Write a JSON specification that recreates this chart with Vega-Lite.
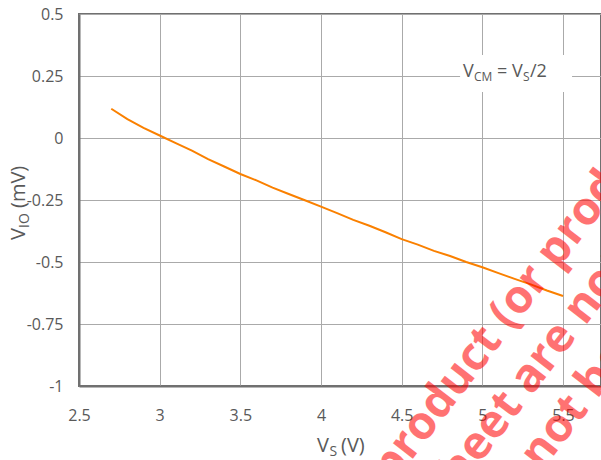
{
  "$schema": "https://vega.github.io/schema/vega-lite/v6.json",
  "width": 522,
  "height": 372,
  "autosize": {"type": "none"},
  "padding": {"left": 79, "top": 14, "right": 0, "bottom": 74},
  "background": "white",
  "config": {
    "font": "Open Sans",
    "view": {"stroke": "#707070", "strokeWidth": 2}
  },
  "encoding": {
    "x": {
      "field": "vs",
      "type": "quantitative",
      "scale": {"domain": [2.5, 5.7355], "nice": false, "zero": false},
      "axis": {
        "values": [2.5, 3, 3.5, 4, 4.5, 5, 5.5],
        "labelExpr": "'' + datum.value",
        "title": null,
        "grid": true,
        "gridColor": "#aaaaaa",
        "gridWidth": 1,
        "domainColor": "#707070",
        "domainWidth": 2,
        "ticks": false,
        "labelPadding": 21,
        "labelFlush": false,
        "labelOverlap": false,
        "labelFont": "Open Sans",
        "labelFontSize": 16,
        "labelColor": "#595959"
      }
    },
    "y": {
      "field": "vio",
      "type": "quantitative",
      "scale": {"domain": [-1, 0.5], "nice": false, "zero": false},
      "axis": {
        "values": [-1, -0.75, -0.5, -0.25, 0, 0.25, 0.5],
        "labelExpr": "'' + datum.value",
        "title": null,
        "grid": true,
        "gridColor": "#aaaaaa",
        "gridWidth": 1,
        "domainColor": "#707070",
        "domainWidth": 2,
        "ticks": false,
        "labelPadding": 16,
        "labelOverlap": false,
        "labelFont": "Open Sans",
        "labelFontSize": 16,
        "labelColor": "#595959"
      }
    }
  },
  "layer": [
    {
      "data": {"values": [{"vs": 4.862, "vs2": 5.556, "vio": 0.185, "vio2": 0.335}]},
      "mark": {"type": "rect", "fill": "white", "stroke": null},
      "encoding": {"x2": {"field": "vs2"}, "y2": {"field": "vio2"}}
    },
    {
      "data": {"values": [
        {"vs": 2.7, "vio": 0.118},
        {"vs": 2.8, "vio": 0.076},
        {"vs": 2.9, "vio": 0.041},
        {"vs": 3.0, "vio": 0.01},
        {"vs": 3.1, "vio": -0.021},
        {"vs": 3.2, "vio": -0.051},
        {"vs": 3.3, "vio": -0.085},
        {"vs": 3.4, "vio": -0.115},
        {"vs": 3.5, "vio": -0.145},
        {"vs": 3.6, "vio": -0.171},
        {"vs": 3.7, "vio": -0.2},
        {"vs": 3.8, "vio": -0.226},
        {"vs": 3.9, "vio": -0.251},
        {"vs": 4.0, "vio": -0.277},
        {"vs": 4.1, "vio": -0.303},
        {"vs": 4.2, "vio": -0.33},
        {"vs": 4.3, "vio": -0.354},
        {"vs": 4.4, "vio": -0.38},
        {"vs": 4.5, "vio": -0.408},
        {"vs": 4.6, "vio": -0.43},
        {"vs": 4.7, "vio": -0.455},
        {"vs": 4.8, "vio": -0.476},
        {"vs": 4.9, "vio": -0.5},
        {"vs": 5.0, "vio": -0.521},
        {"vs": 5.1, "vio": -0.545},
        {"vs": 5.2, "vio": -0.568},
        {"vs": 5.3, "vio": -0.59},
        {"vs": 5.4, "vio": -0.615},
        {"vs": 5.5, "vio": -0.637}
      ]},
      "mark": {"type": "line", "color": "#fa8000", "strokeWidth": 2}
    },
    {
      "data": {"values": [
        {"vs": 4.8802, "vio": 0.246, "label": "V"},
        {"vs": 5.0909, "vio": 0.246, "label": "= V"},
        {"vs": 5.2955, "vio": 0.246, "label": "/2"}
      ]},
      "mark": {"type": "text", "align": "left", "baseline": "alphabetic", "fontSize": 18, "color": "#595959"},
      "encoding": {"text": {"field": "label"}}
    },
    {
      "data": {"values": [
        {"vs": 4.9483, "vio": 0.2298, "label": "CM"},
        {"vs": 5.2521, "vio": 0.2298, "label": "S"}
      ]},
      "mark": {"type": "text", "align": "left", "baseline": "alphabetic", "fontSize": 12, "color": "#595959"},
      "encoding": {"text": {"field": "label"}}
    },
    {
      "data": {"values": [
        {"vs": 3.9752, "vio": -1.2661, "label": "V"},
        {"vs": 4.124, "vio": -1.2661, "label": "(V)"}
      ]},
      "mark": {"type": "text", "align": "left", "baseline": "alphabetic", "fontSize": 20, "color": "#595959"},
      "encoding": {"text": {"field": "label"}}
    },
    {
      "data": {"values": [
        {"vs": 4.0529, "vio": -1.2823, "label": "S"}
      ]},
      "mark": {"type": "text", "align": "left", "baseline": "alphabetic", "fontSize": 14, "color": "#595959"},
      "encoding": {"text": {"field": "label"}}
    },
    {
      "data": {"values": [
        {"vs": 2.165, "vio": -0.4113, "label": "V"},
        {"vs": 2.165, "vio": -0.2823, "label": "(mV)"}
      ]},
      "mark": {"type": "text", "align": "left", "baseline": "alphabetic", "angle": 270, "fontSize": 20, "color": "#595959"},
      "encoding": {"text": {"field": "label"}}
    },
    {
      "data": {"values": [
        {"vs": 2.19, "vio": -0.3629, "label": "IO"}
      ]},
      "mark": {"type": "text", "align": "left", "baseline": "alphabetic", "angle": 270, "fontSize": 14, "color": "#595959"},
      "encoding": {"text": {"field": "label"}}
    },
    {
      "data": {"values": [
        {"vs": 4.3775, "vio": -1.3633, "label": "product (or product"},
        {"vs": 4.7097, "vio": -1.4528, "label": "sheet are not"},
        {"vs": 5.2998, "vio": -1.3105, "label": "not be"}
      ]},
      "mark": {"type": "text", "align": "left", "baseline": "middle", "angle": -52.5, "fontSize": 46, "fontWeight": "bold", "fill": "#ff0000", "opacity": 0.55},
      "encoding": {"text": {"field": "label"}}
    }
  ]
}
